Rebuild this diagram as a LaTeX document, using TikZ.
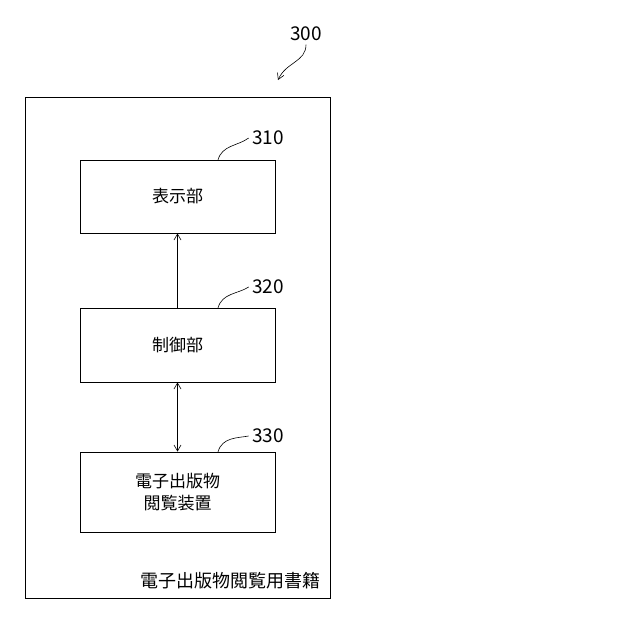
\documentclass[tikz,border=0pt]{standalone}
\usepackage{fontspec}
\setmainfont{Noto Sans CJK JP}
\usetikzlibrary{arrows.meta, positioning}

\begin{document}
\begin{tikzpicture}[x=1pt, y=-1pt, >={Straight Barb[length=6pt,width=7pt]},
      blockbox/.style = {draw, thick, minimum width=195pt, align=center,
        font=\fontsize{17}{22}\selectfont},
      numlabel/.style = {font=\fontsize{19}{20}\selectfont},
      leader/.style = {semithick}]
    \useasboundingbox (0,0) rectangle (640,630);
    \node[draw, thick, minimum width=305pt, minimum height=501pt] (frame) at (177.5,347.5) {};
    \node[blockbox, minimum height=73pt] (disp) at (177.5,196.5) {表示部};
    \node[blockbox, minimum height=74pt] (ctrl) at (177.5,345) {制御部};
    \node[blockbox, minimum height=80pt] (dev) at (177.5,492) {電子出版物\\閲覧装置};
    \node[anchor=south east, font=\fontsize{18}{20}\selectfont] (booktitle) at ([xshift=-6pt,yshift=6pt]frame.south east) {電子出版物閲覧用書籍};
    % reference numerals
    \node[numlabel] (n300) at (306,34) {300};
    \node[numlabel] (n310) at (268,138) {310};
    \node[numlabel] (n320) at (268,287) {320};
    \node[numlabel] (n330) at (268,436) {330};
    \draw[->, semithick] (n300.south) .. controls (306,62) and (286,62) .. (278,80);
    \draw[leader] (218,160) .. controls (222,145) and (238,146) .. (n310.west);
    \draw[leader] (218,308) .. controls (222,293) and (238,294) .. (n320.west);
    \draw[leader] (218,452) .. controls (222,437) and (238,438) .. (n330.west);
    % connectors
    \draw[->, semithick] (ctrl.north) -- (disp.south);
    \draw[<->, semithick] (ctrl.south) -- (dev.north);
\end{tikzpicture}
\end{document}
